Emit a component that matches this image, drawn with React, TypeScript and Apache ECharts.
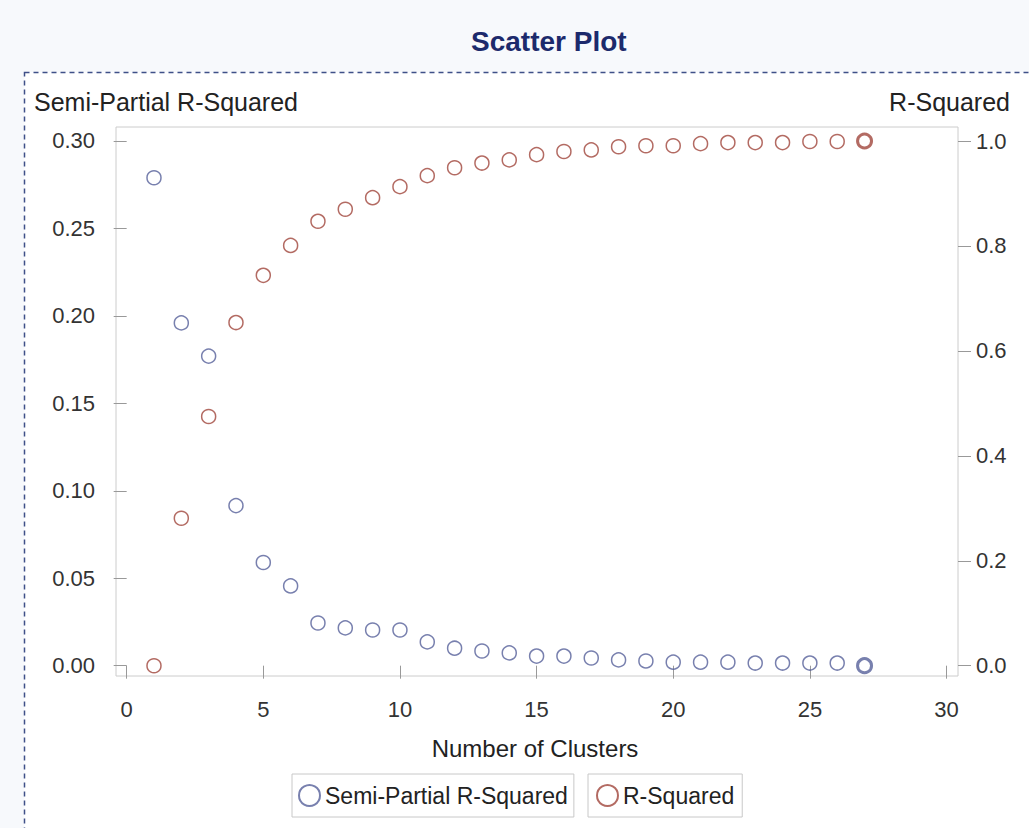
import React, { useEffect, useRef } from "react";
import * as echarts from "echarts";

const clusters = [1, 2, 3, 4, 5, 6, 7, 8, 9, 10, 11, 12, 13, 14, 15, 16, 17, 18, 19, 20, 21, 22, 23, 24, 25, 26, 27];
const semiPartialRSq = [0.279, 0.196, 0.177, 0.0915, 0.059, 0.0456, 0.0244, 0.0216, 0.0204, 0.0204, 0.0136, 0.010, 0.0084, 0.0073, 0.0055, 0.0055, 0.0044, 0.0033, 0.0027, 0.002, 0.002, 0.002, 0.0015, 0.0015, 0.0015, 0.0015, 0.0];
const rSquared = [0.0, 0.281, 0.475, 0.654, 0.744, 0.801, 0.847, 0.870, 0.892, 0.913, 0.934, 0.949, 0.958, 0.964, 0.974, 0.980, 0.983, 0.989, 0.991, 0.991, 0.995, 0.997, 0.997, 0.997, 0.999, 0.999, 1.0];
const xTicks = [0, 5, 10, 15, 20, 25, 30];
const leftTicks = [0, 0.05, 0.1, 0.15, 0.2, 0.25, 0.3];
const rightTicks = [0, 0.2, 0.4, 0.6, 0.8, 1.0];

const FONT = "'Liberation Sans', Arial, sans-serif";
const BLUE = "#56609a";
const RED = "#a0463c";

export default function App() {
  const ref = useRef<HTMLDivElement>(null);
  useEffect(() => {
    document.body.style.margin = "0";
    const chart = echarts.init(ref.current!, null, { renderer: "svg" });
    const last = clusters.length - 1;
    const mk = (vals: number[]) =>
      clusters.map((c, i) => ({
        value: [c, vals[i]],
        itemStyle: i === last ? { borderWidth: 3 } : undefined,
      }));
    const axisLabel = { color: "#333", fontSize: 22, fontFamily: FONT };
    chart.setOption({
      animation: false,
      backgroundColor: "#f7f9fc",
      title: {
        text: "Scatter Plot",
        left: 466,
        top: 22,
        textStyle: { color: "#1c2a6c", fontSize: 28, fontWeight: "bold", fontFamily: FONT },
      },
      graphic: [
        {
          type: "rect",
          z: -10,
          silent: true,
          shape: { x: 24.5, y: 72.5, width: 1100, height: 900 },
          style: { fill: "#ffffff", stroke: "#3f5088", lineWidth: 1.5, lineDash: [5, 4] },
        },
        {
          type: "text",
          left: 34,
          top: 89,
          style: { text: "Semi-Partial R-Squared", fill: "#222", fontSize: 25, fontFamily: FONT },
        },
        {
          type: "text",
          right: 19,
          top: 89,
          style: { text: "R-Squared", fill: "#222", fontSize: 25, fontFamily: FONT },
        },
        {
          type: "text",
          x: 535,
          y: 748,
          style: { text: "Number of Clusters", fill: "#222", fontSize: 24, fontFamily: FONT, align: "center", verticalAlign: "middle" },
        },
      ],
      legend: [
        {
          data: ["Semi-Partial R-Squared"],
          left: 292,
          top: 774,
          padding: [10, 6, 10, 6],
          itemWidth: 21,
          itemHeight: 21,
          itemGap: 0,
          borderColor: "#c8c8c8",
          borderWidth: 1,
          textStyle: { color: "#222", fontSize: 23, fontFamily: FONT },
        },
        {
          data: ["R-Squared"],
          left: 588,
          top: 774,
          padding: [10, 8, 10, 8],
          itemWidth: 21,
          itemHeight: 21,
          itemGap: 0,
          borderColor: "#c8c8c8",
          borderWidth: 1,
          textStyle: { color: "#222", fontSize: 23, fontFamily: FONT },
        },
      ],
      grid: {
        left: 116,
        top: 127,
        right: 71,
        bottom: 152,
        show: true,
        borderColor: "#cccccc",
        borderWidth: 1,
        backgroundColor: "#ffffff",
        containLabel: false,
      },
      xAxis: {
        type: "value",
        min: -0.39,
        max: 30.42,
        axisLine: { show: false },
        splitLine: { show: false },
        axisTick: { show: true, length: 13, lineStyle: { color: "#999" }, customValues: xTicks },
        axisLabel: { ...axisLabel, margin: 22, customValues: xTicks, formatter: (v: number) => String(v) },
      },
      yAxis: [
        {
          type: "value",
          position: "left",
          min: -0.0059,
          max: 0.308,
          axisLine: { show: false },
          splitLine: { show: false },
          axisTick: { show: true, length: 13, lineStyle: { color: "#999" }, customValues: leftTicks },
          axisLabel: { ...axisLabel, margin: 21, customValues: leftTicks, formatter: (v: number) => v.toFixed(2) },
        },
        {
          type: "value",
          position: "right",
          min: -0.0196,
          max: 1.0267,
          axisLine: { show: false },
          splitLine: { show: false },
          axisTick: { show: true, length: 13, lineStyle: { color: "#999" }, customValues: rightTicks },
          axisLabel: { ...axisLabel, margin: 18, customValues: rightTicks, formatter: (v: number) => v.toFixed(1) },
        },
      ],
      series: [
        {
          name: "Semi-Partial R-Squared",
          type: "scatter",
          yAxisIndex: 0,
          symbol: "circle",
          symbolSize: 14,
          itemStyle: { color: "rgba(255,255,255,0)", borderColor: BLUE, borderWidth: 1.5 },
          data: mk(semiPartialRSq),
        },
        {
          name: "R-Squared",
          type: "scatter",
          yAxisIndex: 1,
          symbol: "circle",
          symbolSize: 14,
          itemStyle: { color: "rgba(255,255,255,0)", borderColor: RED, borderWidth: 1.5 },
          data: mk(rSquared),
        },
      ],
    });
    return () => chart.dispose();
  }, []);
  return <div ref={ref} style={{ width: 1029, height: 828 }} />;
}
